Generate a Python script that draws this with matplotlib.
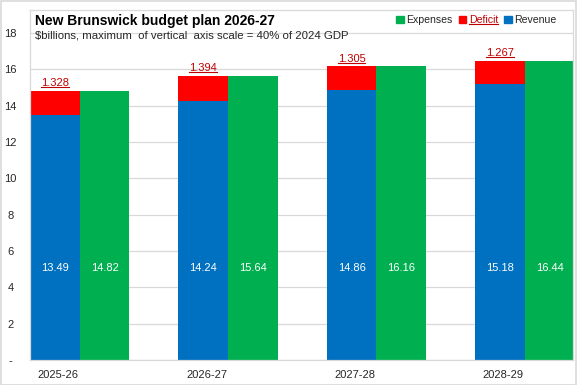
import matplotlib
matplotlib.use("Agg")
import matplotlib.pyplot as plt
from matplotlib.patches import Patch
from matplotlib.lines import Line2D
import numpy as np

years = ["2025-26", "2026-27", "2027-28", "2028-29"]
revenue = [13.49, 14.24, 14.86, 15.18]
expenses = [14.82, 15.64, 16.16, 16.44]
deficit = [1.328, 1.394, 1.305, 1.267]

blue = "#0070C0"
green = "#00B050"
red = "#FF0000"
dred = "#C00000"
grid_c = "#D9D9D9"
txt_c = "#262626"

plt.rcParams["font.family"] = ["Liberation Sans", "DejaVu Sans"]

W, H = 577, 385
fig = plt.figure(figsize=(W / 100, H / 100), dpi=100)
ax = fig.add_axes([30 / W, 25 / H, 543 / W, 350 / H])

x = np.arange(len(years))
w = 0.335
ax.bar(x - w / 2, revenue, w, color=blue, zorder=2)
ax.bar(x - w / 2, deficit, w, bottom=revenue, color=red, zorder=2)
ax.bar(x + w / 2, expenses, w, color=green, zorder=2)

ax.set_xlim(-w, 3 + 0.325)
ax.set_ylim(0, 19.26)
ax.set_yticks(range(0, 19, 2))
ax.set_yticklabels(["-"] + [str(v) for v in range(2, 19, 2)])
ax.set_xticks(x - 0.145)
ax.set_xticklabels(years)
ax.tick_params(length=0, labelsize=8, colors=txt_c, pad=7)
ax.tick_params(axis="y", pad=14)
for lab in ax.get_yticklabels():
    lab.set_horizontalalignment("center")
ax.grid(axis="y", color=grid_c, lw=0.9, zorder=0)
for s in ax.spines.values():
    s.set_color(grid_c)
    s.set_linewidth(0.9)

# value labels inside bars
for i in range(len(years)):
    ax.text(x[i] - w / 2, 5.05, f"{revenue[i]:.2f}", color="white",
            ha="center", va="center", fontsize=8, zorder=3)
    ax.text(x[i] + w / 2, 5.05, f"{expenses[i]:.2f}", color="white",
            ha="center", va="center", fontsize=8, zorder=3)

underline = []
for i in range(len(years)):
    t = ax.text(x[i] - w / 2, revenue[i] + deficit[i] + 0.15, f"{deficit[i]:.3f}",
                color=dred, ha="center", va="bottom", fontsize=8, zorder=3)
    underline.append(t)

fig.text(35 / W, 1 - 20.5 / H, "New Brunswick budget plan 2026-27",
         fontsize=10, fontweight="bold", color="black", va="center",
         family=["Liberation Sans Narrow", "Liberation Sans", "DejaVu Sans"])
fig.text(35 / W, 1 - 35 / H,
         "$billions, maximum  of vertical  axis scale = 40% of 2024 GDP",
         fontsize=8.2, color=txt_c, va="center")

handles = [Patch(color=green, label="Expenses"),
           Patch(color=red, label="Deficit"),
           Patch(color=blue, label="Revenue")]
leg = fig.legend(handles=handles, loc="center right", ncol=3,
                 bbox_to_anchor=(562 / W, 1 - 20 / H), frameon=False,
                 fontsize=7.6, handlelength=0.7, handleheight=0.7,
                 handletextpad=0.25, columnspacing=0.6, borderpad=0)
for t in leg.get_texts():
    t.set_color(txt_c)
leg.get_texts()[1].set_color(dred)
underline.append(leg.get_texts()[1])

# figure border
fig.add_artist(plt.Rectangle((0.5 / W, 0.5 / H), 1 - 1.5 / W, 1 - 1.5 / H,
                             transform=fig.transFigure, fill=False,
                             ec=grid_c, lw=1.2))

fig.canvas.draw()
r = fig.canvas.get_renderer()
for t in underline:
    bb = t.get_window_extent(r)
    y0 = bb.y0 + 1
    fig.add_artist(Line2D([bb.x0 / W, bb.x1 / W], [y0 / H, y0 / H],
                          transform=fig.transFigure, color=dred, lw=0.8))

fig.savefig("out.png", dpi=100)
